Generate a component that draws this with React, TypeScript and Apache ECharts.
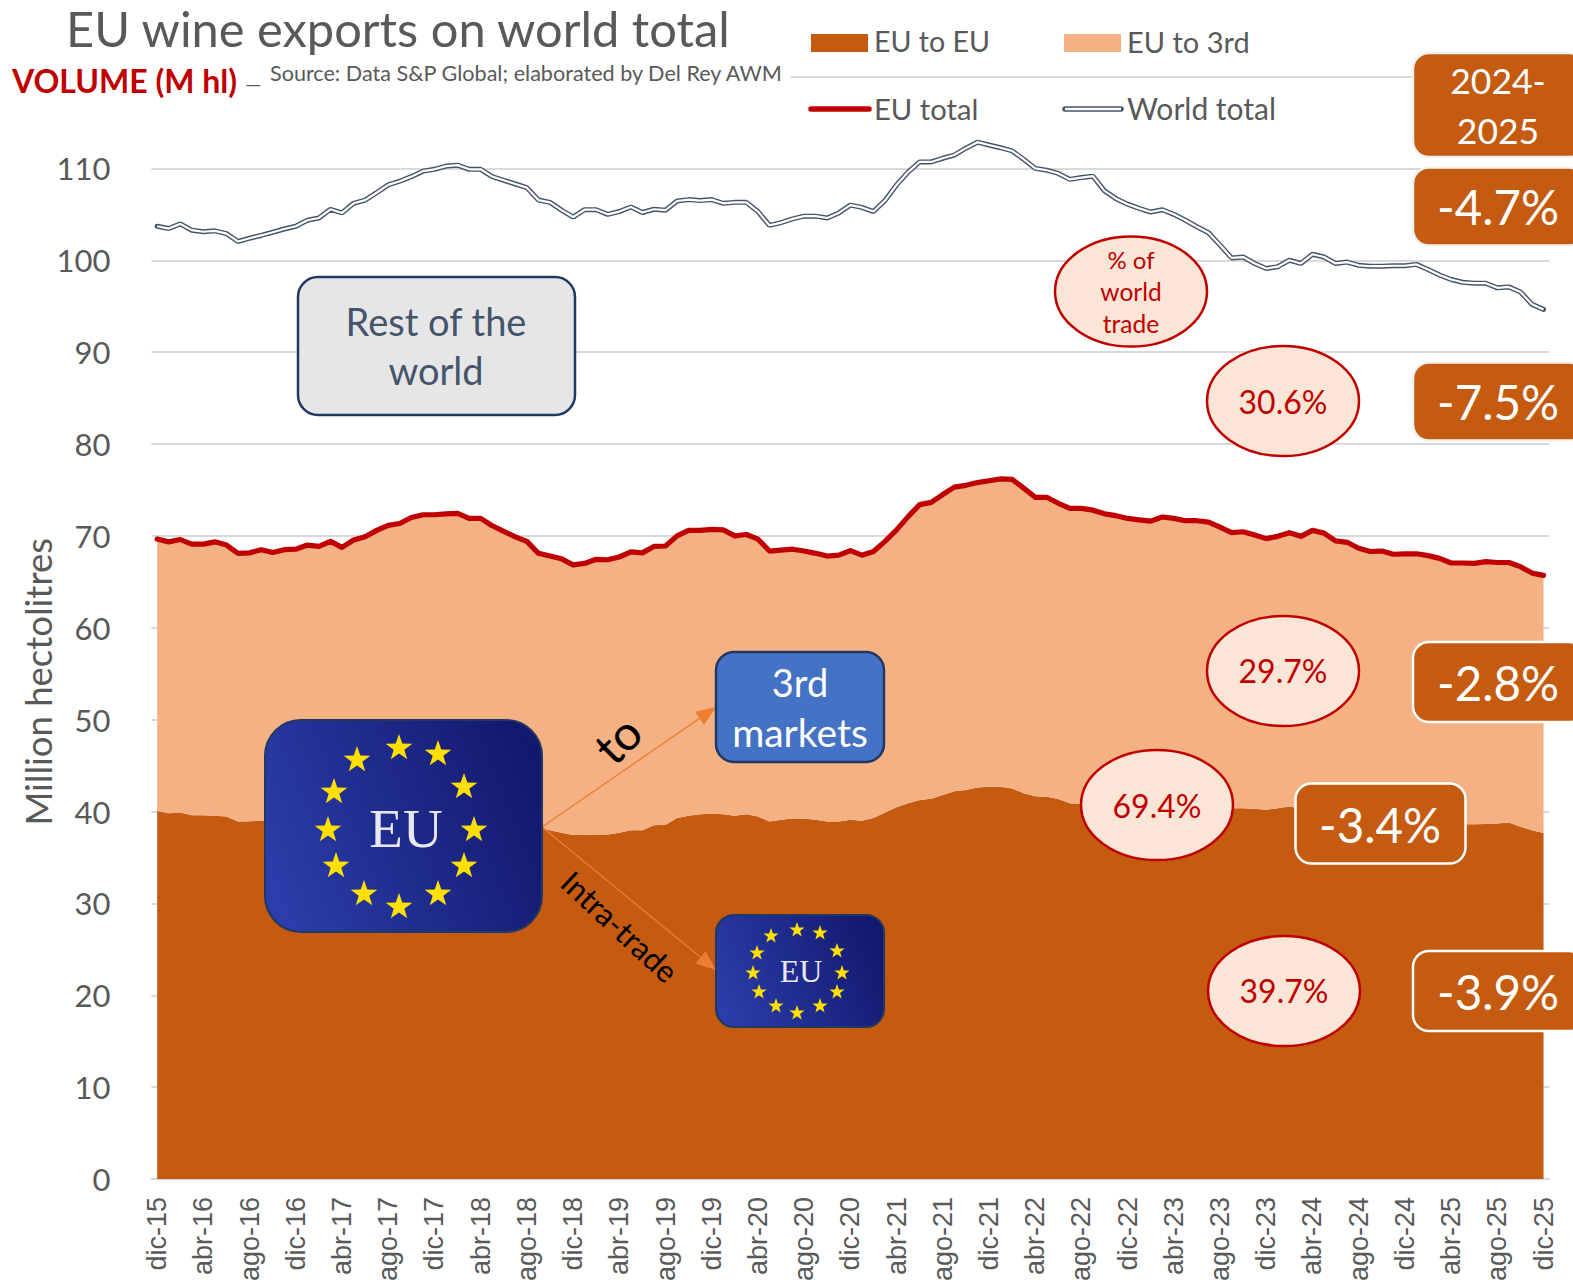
import React, { useEffect, useRef } from "react";
import * as echarts from "echarts";

const categories: string[] = [];
{
  const names = ["ene", "feb", "mar", "abr", "may", "jun", "jul", "ago", "sep", "oct", "nov", "dic"];
  let y = 15;
  let m = 11;
  for (let i = 0; i < 121; i++) {
    categories.push(`${names[m]}-${y}`);
    m++;
    if (m === 12) { m = 0; y++; }
  }
}

const worldTotal = [
  103.7, 103.45, 103.96, 103.27, 103.1, 103.2, 102.9, 102.04, 102.4, 102.7,
  103.05, 103.4, 103.7, 104.35, 104.6, 105.55, 105.15, 106.2, 106.55, 107.35,
  108.2, 108.6, 109.1, 109.7, 109.9, 110.25, 110.35, 109.9, 109.9, 109.1,
  108.7, 108.3, 107.9, 106.55, 106.3, 105.45, 104.7, 105.5, 105.5, 105.0,
  105.3, 105.8, 105.2, 105.55, 105.45, 106.45, 106.6, 106.5, 106.6, 106.2,
  106.3, 106.3, 105.3, 103.8, 104.1, 104.5, 104.8, 104.8, 104.6, 105.15,
  106.0, 105.75, 105.3, 106.5, 108.2, 109.6, 110.7, 110.7, 111.1, 111.45,
  112.2, 112.85, 112.55, 112.25, 111.9, 111.0, 110.0, 109.8, 109.45, 108.8,
  109.0, 109.15, 107.55, 106.7, 106.1, 105.65, 105.25, 105.5, 105.0, 104.35,
  103.65, 103.0, 101.65, 100.25, 100.35, 99.65, 99.1, 99.3, 100.0, 99.65,
  100.65, 100.35, 99.65, 99.8, 99.45, 99.35, 99.35, 99.4, 99.4, 99.55,
  99.0, 98.4, 97.9, 97.6, 97.5, 97.5, 97.0, 97.1, 96.55, 95.2, 94.65,
];

const euTotal = [
  69.65, 69.35, 69.6, 69.1, 69.1, 69.35, 69.0, 68.1, 68.15, 68.5,
  68.2, 68.5, 68.55, 69.0, 68.85, 69.4, 68.75, 69.55, 69.9, 70.6,
  71.15, 71.35, 72.0, 72.3, 72.3, 72.4, 72.45, 71.9, 71.9, 71.1,
  70.5, 69.9, 69.4, 68.1, 67.8, 67.5, 66.85, 67.0, 67.45, 67.4,
  67.7, 68.25, 68.15, 68.85, 68.9, 70.0, 70.6, 70.6, 70.7, 70.65,
  70.0, 70.15, 69.65, 68.35, 68.45, 68.55, 68.35, 68.1, 67.8, 67.9,
  68.4, 67.9, 68.3, 69.4, 70.65, 72.1, 73.4, 73.65, 74.5, 75.3,
  75.5, 75.8, 76.0, 76.2, 76.15, 75.2, 74.2, 74.2, 73.55, 73.0,
  73.0, 72.8, 72.4, 72.2, 71.9, 71.75, 71.6, 72.05, 71.9, 71.65,
  71.65, 71.5, 70.95, 70.35, 70.45, 70.1, 69.7, 69.95, 70.35, 69.95,
  70.6, 70.3, 69.45, 69.3, 68.65, 68.3, 68.35, 68.0, 68.05, 68.05,
  67.85, 67.55, 67.05, 67.05, 67.0, 67.2, 67.1, 67.1, 66.65, 65.95, 65.7,
];

const euToEu = [
  40.05, 39.8, 39.9, 39.6, 39.6, 39.55, 39.45, 38.9, 38.95, 39.0,
  38.9, 39.0, 39.0, 39.3, 39.2, 39.5, 39.2, 39.5, 39.6, 40.0,
  40.3, 40.4, 40.8, 41.0, 41.0, 41.0, 41.0, 40.7, 40.7, 40.3,
  39.9, 39.5, 39.0, 38.2, 37.95, 37.7, 37.45, 37.45, 37.5, 37.5,
  37.7, 37.95, 37.95, 38.5, 38.55, 39.3, 39.55, 39.7, 39.75, 39.7,
  39.55, 39.7, 39.45, 38.9, 39.1, 39.25, 39.25, 39.1, 38.9, 38.9,
  39.1, 39.0, 39.3, 39.9, 40.45, 40.9, 41.25, 41.4, 41.8, 42.2,
  42.35, 42.6, 42.7, 42.7, 42.5, 42.0, 41.65, 41.6, 41.35, 40.9,
  40.85, 40.8, 40.7, 40.6, 40.5, 40.5, 40.4, 40.6, 40.5, 40.4,
  40.4, 40.4, 40.35, 40.35, 40.35, 40.3, 40.2, 40.35, 40.55, 40.3,
  40.55, 40.4, 40.0, 39.9, 39.5, 39.3, 39.35, 39.1, 39.1, 39.1,
  39.0, 38.8, 38.6, 38.6, 38.6, 38.65, 38.7, 38.8, 38.35, 37.95, 37.65,
];

const euToThird = [
  29.6, 29.55, 29.7, 29.5, 29.5, 29.8, 29.55, 29.2, 29.2, 29.5,
  29.3, 29.5, 29.55, 29.7, 29.65, 29.9, 29.55, 30.05, 30.3, 30.6,
  30.85, 30.95, 31.2, 31.3, 31.3, 31.4, 31.45, 31.2, 31.2, 30.8,
  30.6, 30.4, 30.4, 29.9, 29.85, 29.8, 29.4, 29.55, 29.95, 29.9,
  30.0, 30.3, 30.2, 30.35, 30.35, 30.7, 31.05, 30.9, 30.95, 30.95,
  30.45, 30.45, 30.2, 29.45, 29.35, 29.3, 29.1, 29.0, 28.9, 29.0,
  29.3, 28.9, 29.0, 29.5, 30.2, 31.2, 32.15, 32.25, 32.7, 33.1,
  33.15, 33.2, 33.3, 33.5, 33.65, 33.2, 32.55, 32.6, 32.2, 32.1,
  32.15, 32.0, 31.7, 31.6, 31.4, 31.25, 31.2, 31.45, 31.4, 31.25,
  31.25, 31.1, 30.6, 30.0, 30.1, 29.8, 29.5, 29.6, 29.8, 29.65,
  30.05, 29.9, 29.45, 29.4, 29.15, 29.0, 29.0, 28.9, 28.95, 28.95,
  28.85, 28.75, 28.45, 28.45, 28.4, 28.55, 28.4, 28.3, 28.3, 28.0, 28.05,
];

const FONT = "Lato";
const GREY = "#595959";
const RED = "#C00000";
const BROWN = "#C55A11";
const PEACH = "#F4B183";
const SLATE = "#44546A";
const NAVY = "#1F3864";
const ORANGE = "#ED7D31";

function txt(text: string, x: number, y: number, size: number, fill: string, extra: any = {}) {
  const { align = "center", fontWeight = "normal", rotation = 0, fontFamily = FONT, lineHeight } = extra;
  return {
    type: "text", x, y, rotation, z: 120,
    style: { text, fill, fontSize: size, fontFamily, fontWeight, align, verticalAlign: "middle", ...(lineHeight ? { lineHeight } : {}) },
  };
}
function box(x: number, y: number, w: number, h: number, r: number, fill: any, stroke: string, lw: number) {
  return {
    type: "rect", z: 110,
    shape: { x, y, width: w, height: h, r },
    style: { fill, stroke, lineWidth: lw },
  };
}
function bubble(cx: number, cy: number, rx: number, ry: number) {
  return {
    type: "ellipse", z: 110,
    shape: { cx, cy, rx, ry },
    style: { fill: "#FBE5D6", stroke: RED, lineWidth: 2.5 },
  };
}
function star(cx: number, cy: number, R: number) {
  const pts: number[][] = [];
  for (let i = 0; i < 10; i++) {
    const r = i % 2 === 0 ? R : R * 0.4;
    const a = -Math.PI / 2 + (i * Math.PI) / 5;
    pts.push([cx + r * Math.cos(a), cy + r * Math.sin(a)]);
  }
  return { type: "polygon", z: 115, shape: { points: pts }, style: { fill: "#FFE000" } };
}
function arrow(x1: number, y1: number, x2: number, y2: number) {
  const a = Math.atan2(y2 - y1, x2 - x1);
  const L = 20, W = 8;
  const bx = x2 - L * Math.cos(a), by = y2 - L * Math.sin(a);
  const nx = -Math.sin(a), ny = Math.cos(a);
  return [
    { type: "line", z: 105, shape: { x1, y1, x2: bx, y2: by }, style: { stroke: ORANGE, lineWidth: 1.3 } },
    {
      type: "polygon", z: 105,
      shape: { points: [[x2, y2], [bx + nx * W, by + ny * W], [bx - nx * W, by - ny * W]] },
      style: { fill: ORANGE },
    },
  ];
}

const bigStars = [[399, 748], [438, 754], [464, 787], [474, 830], [464, 866], [438, 894], [399, 907], [364, 894], [336, 866], [328, 830], [334, 792], [357, 760]];
const smallStars = [[797, 930], [820, 933], [837, 951], [842, 973], [837, 992], [820, 1006], [797, 1013], [776, 1006], [759, 992], [753, 973], [757, 953], [771, 936]];

function flagFill() {
  return new echarts.graphic.LinearGradient(0, 0.65, 1, 0.35, [
    { offset: 0, color: "#2A3DA8" },
    { offset: 1, color: "#13186E" },
  ]);
}

function buildGraphics() {
  const boxStroke = "#F2F2F2";
  const els: any[] = [
    // white band behind the heading (hides the top gridline)
    { type: "rect", z: 100, shape: { x: 0, y: 0, width: 791, height: 105 }, style: { fill: "#fff" } },
    txt("EU wine exports on world total", 66, 28, 48.8, GREY, { align: "left", lineHeight: 50 }),
    txt("VOLUME (M hl)", 12, 80, 32, RED, { align: "left", fontWeight: "bold" }),
    txt("—", 245, 83, 21, GREY, { align: "left" }),
    txt("Source: Data S&P Global; elaborated by Del Rey AWM", 270, 73, 21.6, GREY, { align: "left" }),
    // legend
    { type: "rect", z: 110, shape: { x: 811, y: 34, width: 57, height: 18 }, style: { fill: BROWN } },
    txt("EU to EU", 874, 41, 28.6, GREY, { align: "left" }),
    { type: "rect", z: 110, shape: { x: 1064, y: 34, width: 57, height: 18 }, style: { fill: PEACH } },
    txt("EU to 3rd", 1127, 41, 29, GREY, { align: "left" }),
    { type: "line", z: 110, shape: { x1: 811, y1: 109, x2: 869, y2: 109 }, style: { stroke: RED, lineWidth: 5.5, lineCap: "round" } },
    txt("EU total", 874, 108, 29.2, GREY, { align: "left" }),
    { type: "line", z: 110, shape: { x1: 1065, y1: 109, x2: 1121, y2: 109 }, style: { stroke: SLATE, lineWidth: 5.5, lineCap: "round" } },
    { type: "line", z: 111, shape: { x1: 1065, y1: 109, x2: 1121, y2: 109 }, style: { stroke: "#fff", lineWidth: 2.4 } },
    txt("World total", 1127, 108, 30, GREY, { align: "left" }),
    // right-hand change boxes
    box(1413, 53, 172, 104, 16, BROWN, boxStroke, 2.5),
    txt("2024-", 1498, 80, 35.5, "#fff"),
    txt("2025", 1498, 130, 35.5, "#fff"),
    box(1413, 167.5, 172, 78, 16, BROWN, boxStroke, 2.5),
    txt("-4.7%", 1498, 206, 47.5, "#fff"),
    box(1413, 362.5, 172, 78, 16, BROWN, boxStroke, 2.5),
    txt("-7.5%", 1498, 401, 47.5, "#fff"),
    box(1413, 642, 172, 80, 16, BROWN, "#fff", 2.5),
    txt("-2.8%", 1498, 682, 47.5, "#fff"),
    box(1295.5, 783.5, 170, 80, 16, BROWN, "#fff", 2.5),
    txt("-3.4%", 1380, 824, 47.5, "#fff"),
    box(1413, 951, 172, 80, 16, BROWN, "#fff", 2.5),
    txt("-3.9%", 1498, 991, 47.5, "#fff"),
    // percentage bubbles
    bubble(1131, 291.5, 76, 55),
    txt("% of", 1131, 259, 24, RED),
    txt("world", 1131, 291, 24.5, RED),
    txt("trade", 1131, 323, 24.5, RED),
    bubble(1283, 401, 76, 55),
    txt("30.6%", 1283, 401, 32, RED),
    bubble(1283, 671, 76, 55),
    txt("29.7%", 1283, 670, 32, RED),
    bubble(1157, 805, 76, 55),
    txt("69.4%", 1157, 805, 32, RED),
    bubble(1284, 991, 76, 55),
    txt("39.7%", 1284, 990, 32, RED),
    // rest of the world
    box(298, 277, 277, 138, 20, "#E7E6E6", NAVY, 2.5),
    txt("Rest of the", 436, 321, 38, SLATE),
    txt("world", 436, 370, 38, SLATE),
    // arrows
    ...arrow(542, 827, 716, 707),
    ...arrow(542, 827, 716, 970),
    txt("to", 617, 739, 48, "#000", { rotation: Math.PI / 4 }),
    txt("Intra-trade", 620, 926.5, 31, "#000", { rotation: -0.75 }),
    // flags
    box(265, 720, 277, 212, 36, flagFill(), NAVY, 2),
    ...bigStars.map(([x, y]) => star(x, y, 14)),
    txt("EU", 406, 828, 55, "#E8E8F2", { fontFamily: "Liberation Serif" }),
    box(716, 915, 168, 112, 18, flagFill(), NAVY, 2),
    ...smallStars.map(([x, y]) => star(x, y, 8)),
    txt("EU", 801, 971, 32, "#E8E8F2", { fontFamily: "Liberation Serif" }),
    // 3rd markets
    box(716, 652, 168, 110, 18, "#4472C4", NAVY, 2.5),
    txt("3rd", 800, 682, 38, "#fff"),
    txt("markets", 800, 732, 39, "#fff"),
  ];
  return els;
}

export default function App() {
  const ref = useRef<HTMLDivElement>(null);
  useEffect(() => {
    if (!ref.current) return;
    const chart = echarts.init(ref.current, undefined, { renderer: "svg" });
    chart.setOption({
      animation: false,
      backgroundColor: "#fff",
      textStyle: { fontFamily: FONT },
      grid: { left: 151.4, right: 23.7, top: 76.5, bottom: 101, containLabel: false, outerBoundsMode: "none" },
      xAxis: {
        type: "category",
        data: categories,
        boundaryGap: true,
        axisTick: { show: false },
        axisLine: { show: true, lineStyle: { color: "#D9D9D9", width: 2 } },
        axisLabel: {
          interval: 3,
          rotate: 90,
          margin: 18,
          color: GREY,
          fontFamily: "Liberation Sans",
          fontSize: 27,
        },
        splitLine: { show: false },
      },
      yAxis: {
        type: "value",
        min: 0,
        max: 120,
        interval: 10,
        name: "Million hectolitres",
        nameLocation: "middle",
        nameGap: 95,
        nameMoveOverlap: false,
        nameTextStyle: { color: GREY, fontFamily: FONT, fontSize: 36.5, padding: [0, 108, 0, 0] },
        axisLine: { show: false },
        axisTick: { show: false },
        axisLabel: {
          color: GREY,
          fontFamily: FONT,
          fontSize: 31,
          margin: 41,
          padding: [0, 0, 8, 0],
          formatter: (v: number) => (v === 120 ? "" : String(v)),
        },
        splitLine: { show: true, lineStyle: { color: "#D9D9D9", width: 2 } },
      },
      series: [
        {
          name: "EU to EU", type: "line", stack: "eu", data: euToEu,
          showSymbol: false, lineStyle: { width: 0 }, areaStyle: { color: BROWN, opacity: 1 }, itemStyle: { color: BROWN },
        },
        {
          name: "EU to 3rd", type: "line", stack: "eu", data: euToThird,
          showSymbol: false, lineStyle: { width: 0 }, areaStyle: { color: PEACH, opacity: 1 }, itemStyle: { color: PEACH },
        },
        {
          name: "EU total", type: "line", data: euTotal, showSymbol: false,
          lineStyle: { color: RED, width: 5.2, cap: "round", join: "round" }, itemStyle: { color: RED },
        },
        {
          name: "World total", type: "line", data: worldTotal, showSymbol: false,
          lineStyle: { color: SLATE, width: 5, cap: "round" }, itemStyle: { color: SLATE },
        },
        {
          name: "World total (core)", type: "line", data: worldTotal, showSymbol: false,
          lineStyle: { color: "#fff", width: 2.2 }, itemStyle: { color: "#fff" },
        },
      ],
      graphic: { elements: buildGraphics() },
    });
    return () => chart.dispose();
  }, []);
  return <div ref={ref} style={{ position: "absolute", left: 0, top: 0, width: 1573, height: 1280 }} />;
}
